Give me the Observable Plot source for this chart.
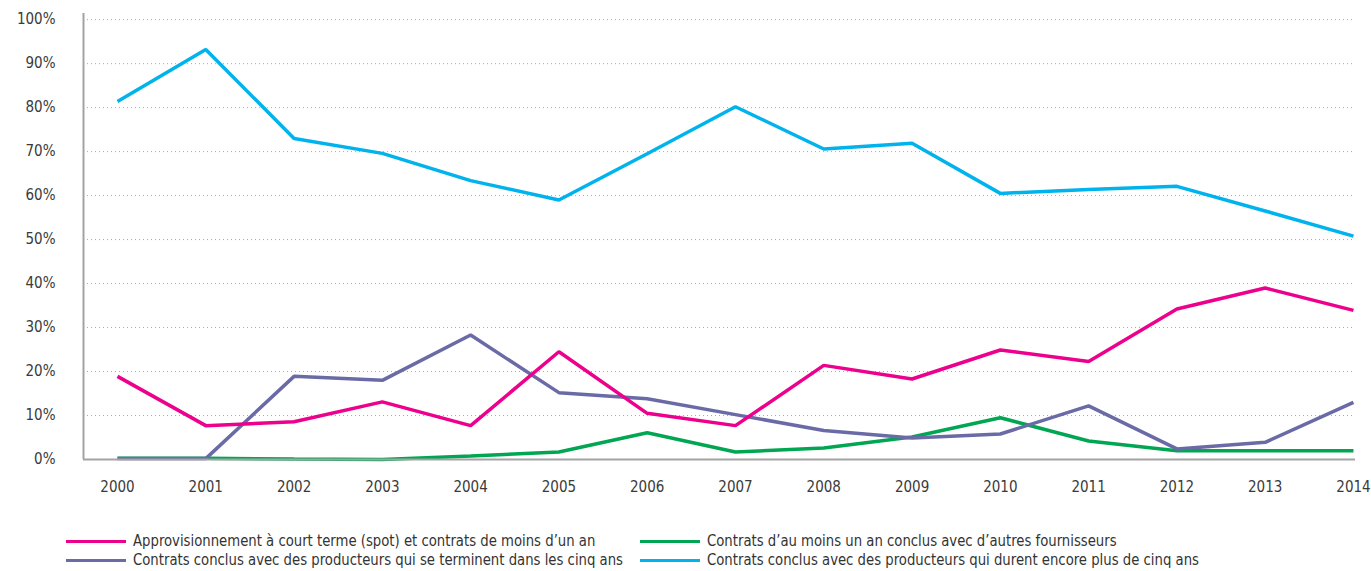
<!DOCTYPE html>
<html><head><meta charset="utf-8">
<script src="https://cdn.jsdelivr.net/npm/d3@7"></script>
<script src="https://cdn.jsdelivr.net/npm/@observablehq/plot@0.6"></script>
<style>
body{margin:0;background:#fff;font-family:"DejaVu Sans Condensed","Liberation Sans Narrow",sans-serif;}
#wrap{position:relative;width:1371px;height:571px;overflow:hidden}
#chart{position:absolute;left:0;top:0}
.leg{position:absolute;height:20px;line-height:20px;font-size:16px;color:#333;white-space:nowrap;display:flex;align-items:center}
.leg .sw{display:inline-block;width:60px;height:3px;margin-right:7px;flex:none}
.leg .tx{display:inline-block;transform:scaleX(0.92);transform-origin:left center}
</style></head><body>
<div id="wrap"><div id="chart"></div></div>
<script>
const years = [2000,2001,2002,2003,2004,2005,2006,2007,2008,2009,2010,2011,2012,2013,2014];
const spot     = [18.9, 7.7, 8.6, 13.1, 7.7, 24.5, 10.5, 7.7, 21.4, 18.3, 24.9, 22.3, 34.2, 39.0, 33.9];
const autres   = [0.3, 0.3, 0.1, 0.0, 0.8, 1.7, 6.1, 1.7, 2.6, 5.1, 9.5, 4.2, 2.0, 2.0, 2.0];
const cinqAns  = [0.2, 0.2, 18.9, 18.0, 28.3, 15.2, 13.8, 10.2, 6.6, 4.9, 5.8, 12.2, 2.4, 3.9, 13.0];
const plusCinq = [81.4, 93.2, 73.0, 69.6, 63.4, 59.0, 69.5, 80.2, 70.6, 71.9, 60.5, 61.4, 62.1, 56.5, 50.8];
const yTicks = [0,10,20,30,40,50,60,70,80,90,100];
const seriesNames = [
  "Approvisionnement à court terme (spot) et contrats de moins d’un an",
  "Contrats d’au moins un an conclus avec d’autres fournisseurs",
  "Contrats conclus avec des producteurs qui se terminent dans les cinq ans",
  "Contrats conclus avec des producteurs qui durent encore plus de cinq ans"
];
const seriesColors = ["#EC008C", "#00A651", "#6A6AA6", "#00B3EC"];
const seriesValues = [spot, autres, cinqAns, plusCinq];

const data = [];
seriesNames.forEach((s, i) => years.forEach((y, j) => data.push({series: s, year: y, value: seriesValues[i][j]})));

const xDomain = [years[0] - 0.385, years[years.length - 1] + 0.023];
const drawOrder = [1, 2, 0, 3];

const chart = Plot.plot({
  width: 1371,
  height: 504,
  marginLeft: 83,
  marginRight: 16,
  marginTop: 13,
  marginBottom: 45,
  style: {fontFamily: '"DejaVu Sans Condensed","Liberation Sans Narrow",sans-serif', fontSize: "15px", color: "#3a3a3a", background: "#fff"},
  x: {domain: xDomain, label: null},
  y: {domain: [0, 101.4], label: null},
  color: {domain: seriesNames, range: seriesColors},
  marks: [
    Plot.ruleY(yTicks.filter(d => d > 0), {stroke: "#a8a8a8", strokeWidth: 1, strokeDasharray: "1,3"}),
    Plot.axisY({ticks: yTicks, tickSize: 0, tickPadding: 28, tickFormat: d => d + "%", fontSize: 15, label: null}),
    Plot.axisX({ticks: years, tickSize: 0, tickPadding: 22, tickFormat: d => String(d), fontSize: 15, label: null}),
    ...drawOrder.map(i => Plot.lineY(data.filter(d => d.series === seriesNames[i]), {x: "year", y: "value", stroke: "series", strokeWidth: 3.5, strokeLinejoin: "miter", strokeLinecap: "butt"})),
    Plot.ruleY([0], {stroke: "#a3a3a3", strokeWidth: 2}),
    Plot.ruleX([xDomain[0]], {stroke: "#a3a3a3", strokeWidth: 2})
  ]
});
document.getElementById("chart").appendChild(chart);

const wrap = document.getElementById("wrap");
const legPos = [[66, 531], [640, 531], [66, 550], [640, 550]];
seriesNames.forEach((s, i) => {
  const d = document.createElement("div");
  d.className = "leg";
  d.style.left = legPos[i][0] + "px";
  d.style.top = legPos[i][1] + "px";
  const sw = document.createElement("span");
  sw.className = "sw";
  sw.style.background = seriesColors[i];
  d.appendChild(sw);
  const tx = document.createElement("span");
  tx.className = "tx";
  tx.textContent = s;
  d.appendChild(tx);
  wrap.appendChild(d);
});
</script>
</body></html>
